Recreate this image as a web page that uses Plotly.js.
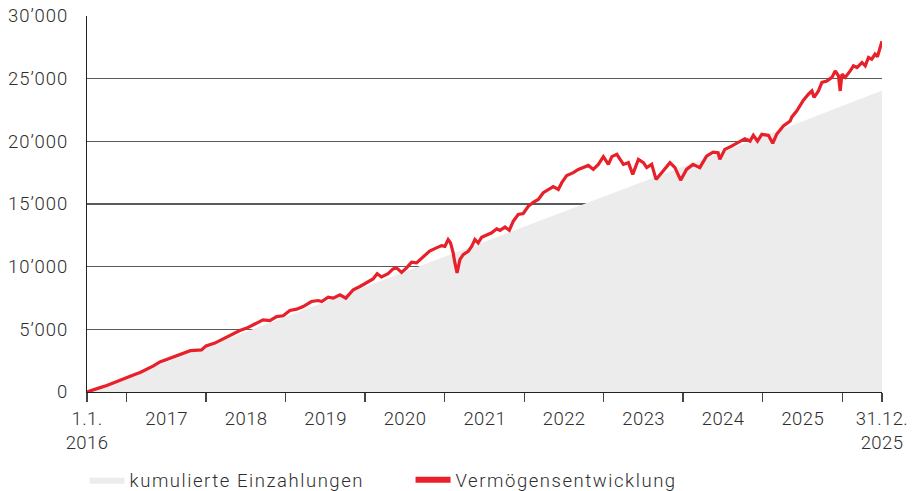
<!DOCTYPE html>
<html>
<head>
<meta charset="utf-8">
<script src="https://cdn.plot.ly/plotly-3.0.1.min.js"></script>
<style>
html,body{margin:0;padding:0;background:#fff;}
#chart{width:915px;height:491px;}
#chart .legendtext{letter-spacing:1.55px;}
#chart .ytick text{letter-spacing:0.9px;}
#chart .xtick text{letter-spacing:0.4px;}
</style>
</head>
<body>
<div id="chart"></div>
<script>
// Cumulative deposits (CHF)
const depositDates = ["2016-01-01","2017-01-01","2018-01-01","2019-01-01","2020-01-01","2021-01-01","2022-01-01","2023-01-01","2024-01-01","2025-01-01","2025-12-31"];
const depositValues = [0,2400,4800,7200,9600,12000,14400,16800,19200,21600,24050];

// Wealth development (CHF)
const wealthDates = [
"2016-01-01","2016-02-01","2016-03-01","2016-04-01","2016-05-01","2016-06-01","2016-07-01","2016-08-01","2016-09-01","2016-10-01","2016-11-01","2016-12-01",
"2017-01-01","2017-02-15","2017-03-15","2017-04-20","2017-06-10","2017-07-01","2017-08-10","2017-09-15","2017-11-05","2017-12-03",
"2018-01-04","2018-02-03","2018-03-20","2018-04-20","2018-05-21","2018-06-20","2018-07-21","2018-08-21","2018-09-20","2018-10-28","2018-11-28","2018-12-14",
"2019-01-13","2019-02-05","2019-03-08","2019-04-04","2019-05-08","2019-06-08","2019-07-08","2019-08-07","2019-08-26","2019-09-15","2019-10-15","2019-11-07","2019-11-23","2019-12-16",
"2020-01-08","2020-01-31","2020-02-23","2020-03-25","2020-04-23","2020-05-24","2020-06-17","2020-07-02","2020-07-17","2020-07-28","2020-08-09","2020-08-17","2020-08-27","2020-09-09","2020-09-24","2020-10-17","2020-11-02","2020-11-17","2020-12-02","2020-12-18",
"2021-01-10","2021-02-02","2021-02-25","2021-03-12","2021-04-04","2021-04-24","2021-05-12","2021-06-04","2021-06-27","2021-07-20","2021-08-12","2021-09-04","2021-09-27","2021-10-20","2021-11-12","2021-12-05","2021-12-21",
"2022-01-13","2022-02-12","2022-03-07","2022-03-30","2022-04-22","2022-05-15","2022-06-07","2022-06-30","2022-07-23","2022-08-08","2022-08-31","2022-09-15","2022-09-30","2022-10-23","2022-11-12","2022-12-08","2022-12-31",
"2023-01-15","2023-02-07","2023-02-27","2023-03-25","2023-05-02","2023-05-25","2023-06-20","2023-07-17","2023-08-16","2023-09-16","2023-10-17","2023-11-16","2023-12-09","2023-12-17",
"2024-01-09","2024-02-09","2024-03-11","2024-04-10","2024-05-04","2024-05-19","2024-06-07","2024-06-27","2024-07-27","2024-08-16","2024-09-03","2024-10-04","2024-11-04","2024-11-12","2024-12-04",
"2025-01-04","2025-01-27","2025-02-12","2025-02-22","2025-03-14","2025-03-30","2025-04-22","2025-05-15","2025-05-30","2025-06-14","2025-06-22","2025-06-30","2025-07-15","2025-08-07","2025-08-22","2025-09-07","2025-09-30","2025-10-15","2025-10-30","2025-11-14","2025-11-29","2025-12-10","2025-12-19","2025-12-31"];
const wealthValues = [
0,150,350,520,740,920,1150,1360,1560,1800,2080,2400,
2600,2830,3050,3300,3360,3680,3900,4210,4650,4900,
5100,5360,5760,5700,6020,6080,6500,6610,6820,7220,7300,7220,
7570,7490,7760,7490,8160,8420,8700,9020,9440,9180,9440,9820,9900,9540,
9900,10350,10300,10830,11250,11500,11680,11620,12160,11900,11100,10300,9500,10560,10960,11220,11620,12160,11900,12350,
12560,12700,13020,12900,13160,12900,13620,14160,14240,14820,15140,15360,15900,16160,16380,16160,16700,
17280,17500,17760,17900,18080,17760,18160,18780,18160,18780,18960,18560,18160,18300,17360,18560,18300,
17900,18160,16960,17500,18300,17900,16900,17760,18160,17900,18820,19140,19090,18560,
19360,19620,19890,20210,20020,20480,20020,20560,20480,19840,20560,21220,21620,21950,22420,
23290,23760,24020,23500,24020,24700,24820,25100,25620,25220,24020,25360,25100,25620,26020,25890,26290,26020,26690,26560,26960,26750,27360,27980];

// Axis labels
const xLabelDates = ["2016-01-01","2017-01-01","2018-01-01","2019-01-01","2020-01-01","2021-01-01","2022-01-01","2023-01-01","2024-01-01","2025-01-01","2025-12-31"];
const xLabelTexts = ["1.1.<br>2016","2017","2018","2019","2020","2021","2022","2023","2024","2025","31.12.<br>2025"];
const xTickMarkDates = ["2016-01-01","2016-07-01","2017-07-01","2018-07-01","2019-07-01","2020-07-01","2021-07-01","2022-07-01","2023-07-01","2024-07-01","2025-07-01","2025-12-31"];
const yTickVals = [0,5000,10000,15000,20000,25000,30000];
const yTickTexts = ["0","5’000","10’000","15’000","20’000","25’000","30’000"];

const seriesNames = ["kumulierte Einzahlungen","Vermögensentwicklung"];
const RED = "#e8202a";
const FONT = {family: "Roboto, 'Liberation Sans', sans-serif", size: 18.5, color: "#2e2e2e", weight: 300};

const traces = [
  {x: depositDates, y: depositValues, type: "scatter", mode: "lines", fill: "tozeroy",
   fillcolor: "#ececec", line: {width: 0, color: "#ececec"}, name: seriesNames[0], hoverinfo: "skip"},
  {x: wealthDates, y: wealthValues, type: "scatter", mode: "lines",
   line: {width: 3.2, color: RED}, name: seriesNames[1], showlegend: false, hoverinfo: "skip"},
  {x: [null], y: [null], type: "scatter", mode: "lines",
   line: {width: 6, color: RED}, name: seriesNames[1], hoverinfo: "skip"}
];

const layout = {
  width: 915, height: 491,
  margin: {l: 87, r: 33, t: 16, b: 99},
  paper_bgcolor: "#ffffff", plot_bgcolor: "#ffffff",
  font: FONT,
  showlegend: true,
  hovermode: false,
  xaxis: {
    type: "date",
    range: ["2016-01-01", "2025-12-31"],
    tickmode: "array", tickvals: xLabelDates, ticktext: xLabelTexts,
    ticks: "", ticklabelstandoff: 10,
    showgrid: false, zeroline: false,
    showline: true, linecolor: "#222222", linewidth: 1.2,
    minor: {tickmode: "array", tickvals: xTickMarkDates, ticks: "outside", ticklen: 9, tickcolor: "#444444", tickwidth: 1.2, showgrid: false},
    tickfont: FONT, fixedrange: true, automargin: false
  },
  yaxis: {
    range: [0, 30000],
    tickmode: "array", tickvals: yTickVals, ticktext: yTickTexts,
    ticks: "", ticklabelstandoff: 14,
    showgrid: true, gridcolor: "#5a5a5a", gridwidth: 1.2,
    zeroline: false,
    showline: true, linecolor: "#222222", linewidth: 1.2,
    tickfont: FONT, fixedrange: true, automargin: false
  },
  legend: {
    orientation: "h", x: 0.0924, xref: "container", xanchor: "left",
    y: 0.022, yref: "container", yanchor: "middle",
    font: {family: FONT.family, size: 18.5, color: "#2e2e2e", weight: 300},
    itemwidth: 35,
    entrywidth: 276, entrywidthmode: "pixels",
    bgcolor: "rgba(0,0,0,0)", traceorder: "normal"
  }
};

Plotly.newPlot("chart", traces, layout, {displayModeBar: false, staticPlot: true});
</script>
</body>
</html>
